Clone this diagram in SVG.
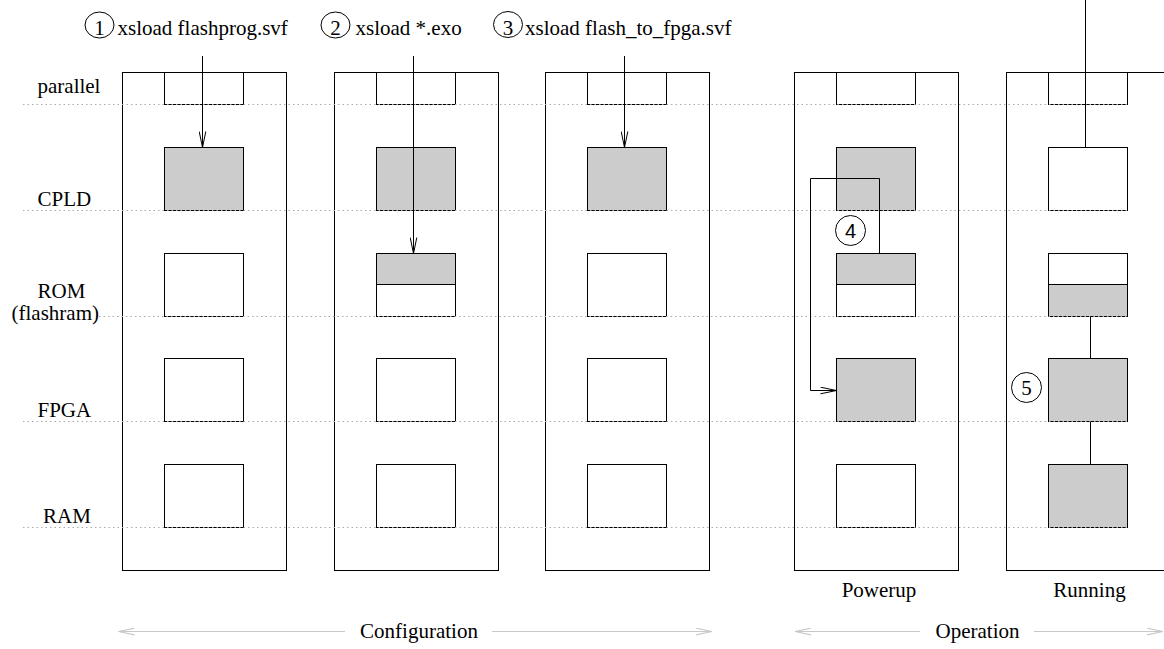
<svg xmlns="http://www.w3.org/2000/svg" width="1164" height="649" viewBox="0 0 1164 649">
  <style>
    .txt { font-family: "Liberation Serif", "Times New Roman", serif; font-size: 21px; fill: #000; }
    .sans { font-family: "Liberation Sans", Arial, sans-serif; font-size: 20px; fill: #000; }
    .frame { fill: #fff; stroke: #000; stroke-width: 1; }
    .blk { fill: #fff; stroke: #000; stroke-width: 1; }
    .on { fill: #cccccc; stroke: #000; stroke-width: 1; }
    .grid { stroke: #aaa; stroke-width: 1; stroke-dasharray: 1.5 3; fill: none; }
    .wire { stroke: #000; stroke-width: 1; fill: none; }
    .span { stroke: #c8c8c8; stroke-width: 1.2; fill: none; }
    .mark { fill: none; stroke: #000; stroke-width: 1; }
  </style>
  <defs>
    <marker id="vhead" viewBox="0 0 17 8" refX="16.5" refY="4" markerWidth="17" markerHeight="8" markerUnits="userSpaceOnUse" orient="auto">
      <path d="M0.5,0.7 L16.5,4 L0.5,7.3" fill="none" stroke="#000" stroke-width="1"/>
    </marker>
    <marker id="ghead" viewBox="0 0 17 8" refX="16.5" refY="4" markerWidth="17" markerHeight="8" markerUnits="userSpaceOnUse" orient="auto">
      <path d="M0.5,0.7 L16.5,4 L0.5,7.3" fill="none" stroke="#c8c8c8" stroke-width="1.2"/>
    </marker>
  </defs>

  <!-- row labels -->
  <g id="row-labels">
    <text class="txt" x="37.5" y="93">parallel</text>
    <text class="txt" x="37.5" y="205.5">CPLD</text>
    <text class="txt" x="37.5" y="298">ROM</text>
    <text class="txt" x="11.5" y="320">(flashram)</text>
    <text class="txt" x="37.5" y="416.5">FPGA</text>
    <text class="txt" x="43" y="522.5">RAM</text>
  </g>

  <!-- step 1 -->
  <g id="col1">
    <rect class="frame" x="122.5" y="72.5" width="164" height="498"/>
    <rect class="blk" x="164.5" y="72.5" width="79" height="32"/>
    <rect class="on" x="164.5" y="147.5" width="79" height="63"/>
    <rect class="blk" x="164.5" y="253.5" width="79" height="63"/>
    <rect class="blk" x="164.5" y="358.5" width="79" height="63"/>
    <rect class="blk" x="164.5" y="464.5" width="79" height="63"/>
  </g>

  <!-- step 2 -->
  <g id="col2">
    <rect class="frame" x="334.5" y="72.5" width="164" height="498"/>
    <rect class="blk" x="376.5" y="72.5" width="79" height="32"/>
    <rect class="on" x="376.5" y="147.5" width="79" height="63"/>
    <rect class="blk" x="376.5" y="253.5" width="79" height="63"/>
    <rect class="on" x="376.5" y="253.5" width="79" height="31"/>
    <rect class="blk" x="376.5" y="358.5" width="79" height="63"/>
    <rect class="blk" x="376.5" y="464.5" width="79" height="63"/>
  </g>

  <!-- step 3 -->
  <g id="col3">
    <rect class="frame" x="545.5" y="72.5" width="164" height="498"/>
    <rect class="blk" x="587.5" y="72.5" width="79" height="32"/>
    <rect class="on" x="587.5" y="147.5" width="79" height="63"/>
    <rect class="blk" x="587.5" y="253.5" width="79" height="63"/>
    <rect class="blk" x="587.5" y="358.5" width="79" height="63"/>
    <rect class="blk" x="587.5" y="464.5" width="79" height="63"/>
  </g>

  <!-- powerup -->
  <g id="col4">
    <rect class="frame" x="794.5" y="72.5" width="164" height="498"/>
    <rect class="blk" x="836.5" y="72.5" width="79" height="32"/>
    <rect class="on" x="836.5" y="147.5" width="79" height="63"/>
    <rect class="blk" x="836.5" y="253.5" width="79" height="63"/>
    <rect class="on" x="836.5" y="253.5" width="79" height="31"/>
    <rect class="on" x="836.5" y="358.5" width="79" height="63"/>
    <rect class="blk" x="836.5" y="464.5" width="79" height="63"/>
  </g>

  <!-- running -->
  <g id="col5">
    <rect class="frame" x="1006.5" y="72.5" width="164" height="498"/>
    <rect class="blk" x="1048.5" y="72.5" width="79" height="32"/>
    <rect class="blk" x="1048.5" y="147.5" width="79" height="63"/>
    <rect class="blk" x="1048.5" y="253.5" width="79" height="63"/>
    <rect class="on" x="1048.5" y="284.5" width="79" height="32"/>
    <rect class="on" x="1048.5" y="358.5" width="79" height="63"/>
    <rect class="on" x="1048.5" y="464.5" width="79" height="63"/>
  </g>

  <!-- row guide lines -->
  <g id="guides">
    <line class="grid" x1="23" y1="104.5" x2="1128" y2="104.5"/>
    <line class="grid" x1="23" y1="210.5" x2="1128" y2="210.5"/>
    <line class="grid" x1="99" y1="316.5" x2="1128" y2="316.5"/>
    <line class="grid" x1="23" y1="421.5" x2="1128" y2="421.5"/>
    <line class="grid" x1="23" y1="527.5" x2="1128" y2="527.5"/>
  </g>

  <!-- connectors -->
  <g id="connectors">
    <line class="wire" x1="202.5" y1="56" x2="202.5" y2="147.5" marker-end="url(#vhead)"/>
    <line class="wire" x1="413.5" y1="56" x2="413.5" y2="253.5" marker-end="url(#vhead)"/>
    <line class="wire" x1="624.5" y1="56" x2="624.5" y2="147.5" marker-end="url(#vhead)"/>
    <path class="wire" d="M879.5,253.5 V178.5 H810.5 V390.5 H836.5" marker-end="url(#vhead)"/>
    <line class="wire" x1="1085.5" y1="0" x2="1085.5" y2="147.5"/>
    <line class="wire" x1="1090.5" y1="316.5" x2="1090.5" y2="358.5"/>
    <line class="wire" x1="1090.5" y1="421.5" x2="1090.5" y2="464.5"/>
    <line class="span" x1="345" y1="631.5" x2="118.5" y2="631.5" marker-end="url(#ghead)"/>
    <line class="span" x1="492" y1="631.5" x2="712" y2="631.5" marker-end="url(#ghead)"/>
    <line class="span" x1="920" y1="631.5" x2="795" y2="631.5" marker-end="url(#ghead)"/>
    <line class="span" x1="1034" y1="631.5" x2="1163" y2="631.5" marker-end="url(#ghead)"/>
  </g>

  <!-- step commands -->
  <g id="step1">
    <ellipse class="mark" cx="99.5" cy="25" rx="14.5" ry="13"/>
    <text class="txt" x="99.5" y="35" text-anchor="middle">1</text>
    <text class="txt" x="117.5" y="35">xsload flashprog.svf</text>
  </g>
  <g id="step2">
    <ellipse class="mark" cx="335.5" cy="25" rx="14.5" ry="13"/>
    <text class="txt" x="335.5" y="35" text-anchor="middle">2</text>
    <text class="txt" x="355.5" y="35">xsload *.exo</text>
  </g>
  <g id="step3">
    <ellipse class="mark" cx="508" cy="24.5" rx="14.5" ry="13"/>
    <text class="txt" x="508" y="34.5" text-anchor="middle">3</text>
    <text class="txt" x="525" y="35">xsload flash_to_fpga.svf</text>
  </g>
  <g id="step4">
    <circle class="mark" cx="850.5" cy="230.5" r="15"/>
    <text class="sans" x="850.5" y="237.5" text-anchor="middle">4</text>
  </g>
  <g id="step5">
    <circle class="mark" cx="1026.5" cy="387.5" r="15"/>
    <text class="txt" x="1026.5" y="395" text-anchor="middle">5</text>
  </g>

  <!-- phase captions -->
  <g id="captions">
    <text class="txt" x="879" y="596.5" text-anchor="middle">Powerup</text>
    <text class="txt" x="1089.5" y="596.5" text-anchor="middle">Running</text>
    <text class="txt" x="419" y="637.5" text-anchor="middle">Configuration</text>
    <text class="txt" x="977.5" y="637.5" text-anchor="middle">Operation</text>
  </g>
</svg>
